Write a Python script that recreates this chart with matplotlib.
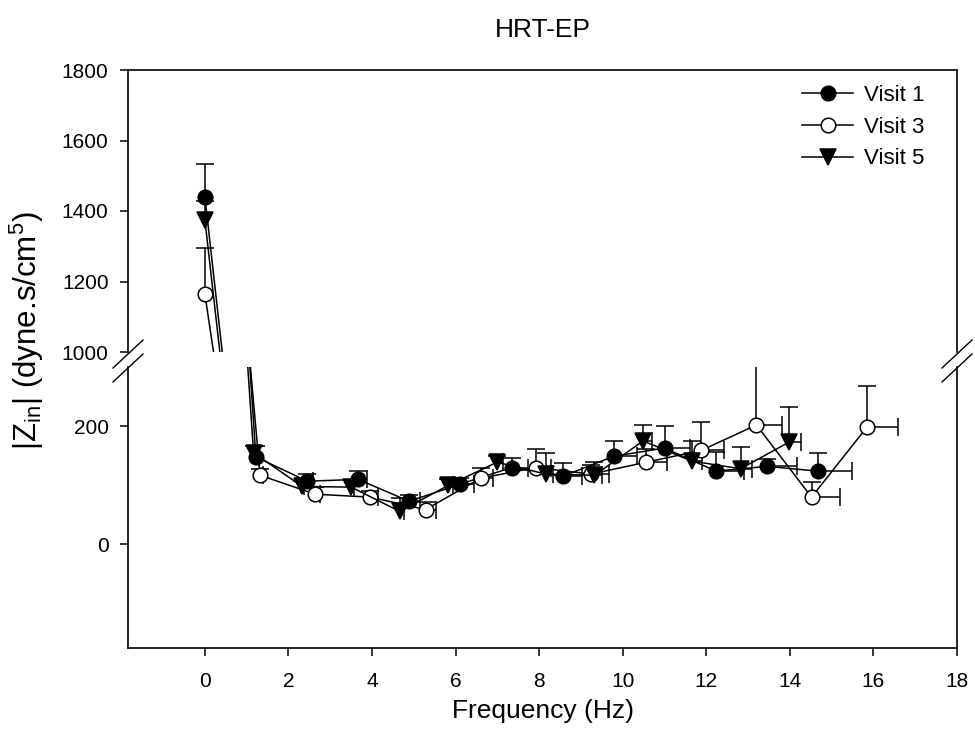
import matplotlib
matplotlib.use("Agg")
import matplotlib.pyplot as plt
import numpy as np
from matplotlib.lines import Line2D

plt.rcParams['font.family'] = ['Liberation Sans', 'DejaVu Sans']
plt.rcParams['mathtext.fontset'] = 'custom'
plt.rcParams['mathtext.rm'] = 'Liberation Sans'

# ---- data ----
freq_v1 = [0, 1.22, 2.45, 3.67, 4.89, 6.11, 7.34, 8.56, 9.78, 11.0, 12.23, 13.45, 14.67]
zin_v1 = [1440, 148, 107, 110, 73, 102, 130, 115, 149, 163, 124, 132, 124]
yerr_v1 = [92, 18, 12, 14, 10, 10, 17, 22, 26, 37, 32, 12, 30]
xerr_v1 = [0, 0.07, 0.13, 0.2, 0.27, 0.33, 0.4, 0.47, 0.56, 0.6, 0.67, 0.72, 0.82]

freq_v3 = [0, 1.32, 2.64, 3.96, 5.28, 6.6, 7.92, 9.24, 10.56, 11.88, 13.2, 14.52, 15.84]
zin_v3 = [1164, 117, 85, 80, 59, 112, 130, 119, 139, 159, 202, 80, 198]
yerr_v3 = [131, 10, 12, 10, 12, 18, 31, 15, 22, 48, 160, 25, 70]
xerr_v3 = [0, 0.06, 0.12, 0.18, 0.25, 0.3, 0.37, 0.42, 0.5, 0.54, 0.6, 0.68, 0.75]

freq_v5 = [0, 1.165, 2.33, 3.5, 4.66, 5.83, 6.99, 8.16, 9.32, 10.49, 11.65, 12.82, 13.98]
zin_v5 = [1375, 155, 98, 97, 56, 100, 139, 119, 117, 175, 141, 128, 173]
yerr_v5 = [52, 12, 10, 12, 22, 10, 10, 35, 22, 27, 34, 37, 59]
xerr_v5 = [0, 0.03, 0.05, 0.08, 0.1, 0.12, 0.14, 0.16, 0.18, 0.2, 0.25, 0.28, 0.28]

labels = ['Visit 1', 'Visit 3', 'Visit 5']
x_ticks = [0, 2, 4, 6, 8, 10, 12, 14, 16, 18]
y_ticks_top = [1000, 1200, 1400, 1600, 1800]
y_ticks_bot = [0, 200]

series = [
    (freq_v1, zin_v1, yerr_v1, xerr_v1, 'o', 'black'),
    (freq_v3, zin_v3, yerr_v3, xerr_v3, 'o', 'white'),
    (freq_v5, zin_v5, yerr_v5, xerr_v5, 'v', 'black'),
]

W, H = 975, 750
fig = plt.figure(figsize=(W / 100, H / 100), dpi=100)

L, R = 128, 957
top_t, top_b = 70, 352
bot_t, bot_b = 367, 648
ax_top = fig.add_axes([L / W, 1 - top_b / H, (R - L) / W, (top_b - top_t) / H])
ax_bot = fig.add_axes([L / W, 1 - bot_b / H, (R - L) / W, (bot_b - bot_t) / H])

lw = 1.1
handles = []
for ax in (ax_top, ax_bot):
    for i, (x, y, ye, xe, mk, fc) in enumerate(series):
        x = np.array(x); y = np.array(y); ye = np.array(ye); xe = np.array(xe)
        z = np.zeros_like(ye)
        ax.errorbar(x, y, yerr=[z, ye], xerr=[np.zeros_like(xe), xe], fmt='none',
                    ecolor='black', elinewidth=lw, capsize=0, zorder=2)
        m = ye > 0
        ax.plot(x[m], (y + ye)[m], ls='none', marker='_', ms=13, mew=lw, color='black', zorder=2)
        m = xe > 0
        ax.plot((x + xe)[m], y[m], ls='none', marker='|', ms=13, mew=lw, color='black', zorder=2)
        ln, = ax.plot(x, y, color='black', lw=lw, marker=mk, ms=10.5 if mk == 'o' else 11,
                      mfc=fc, mec='black', mew=lw, zorder=3 + i, label=labels[i])
        if ax is ax_top:
            handles.append(ln)

for ax in (ax_top, ax_bot):
    ax.set_xlim(-1.84, 18)
    for s in ax.spines.values():
        s.set_linewidth(1.2)
    ax.tick_params(axis='both', direction='out', length=6, width=1.1, labelsize=15,
                   right=False, top=False)
    ax.tick_params(axis='y', pad=8)

ax_top.set_ylim(1000, 1800)
ax_top.set_yticks(y_ticks_top)
ax_top.spines['bottom'].set_visible(False)
ax_top.set_xticks([])

ax_bot.set_ylim(-175, 300)
ax_bot.set_yticks(y_ticks_bot)
ax_bot.spines['top'].set_visible(False)
ax_bot.set_xticks(x_ticks)
ax_bot.tick_params(axis='x', pad=11)

# break marks
for xs in (L, R):
    for yc in (354, 368):
        fig.add_artist(Line2D([(xs - 15) / W, (xs + 15) / W], [1 - (yc + 14) / H, 1 - (yc - 14) / H],
                              transform=fig.transFigure, color='black', lw=1.0))

fig.text((L + R) / 2 / W, 1 - 30 / H, 'HRT-EP', ha='center', va='center', fontsize=19)
fig.text((L + R) / 2 / W, 1 - 711 / H, 'Frequency (Hz)', ha='center', va='center', fontsize=19)
fig.text(27 / W, 1 - 331 / H, r'$\mathregular{|Z_{in}|}$ (dyne.s/cm$\mathregular{^5}$)',
         ha='center', va='center', rotation=90, fontsize=22.5)

ax_top.legend(handles=handles, loc='upper left', bbox_to_anchor=(802 / W, 1 - 85 / H),
              bbox_transform=fig.transFigure, frameon=False, fontsize=16,
              handlelength=2.3, handletextpad=0.5, labelspacing=0.48, borderaxespad=0,
              borderpad=0)

fig.savefig('out.png', dpi=100)
